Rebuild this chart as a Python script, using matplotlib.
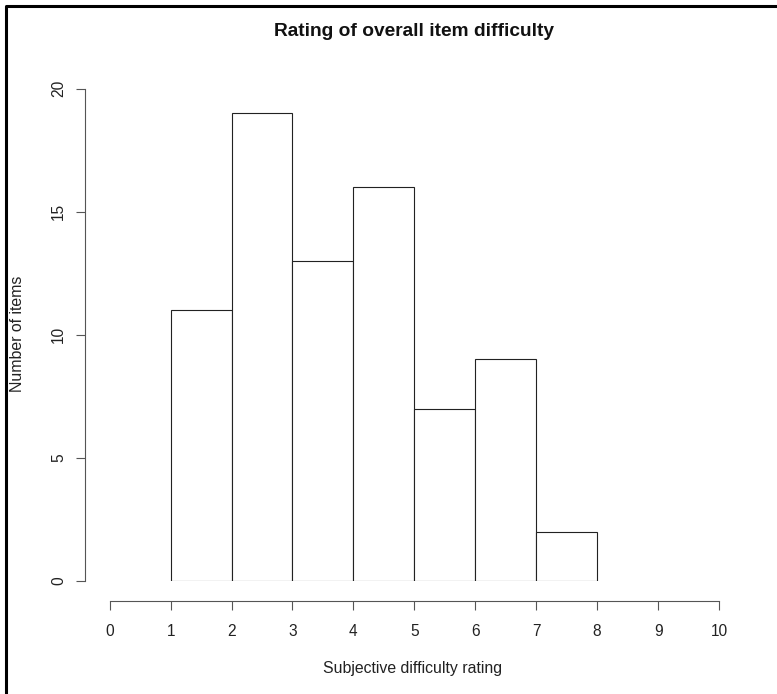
import matplotlib
matplotlib.use("Agg")
import matplotlib.pyplot as plt
from matplotlib.lines import Line2D

plt.rcParams['font.family'] = ['Liberation Sans', 'DejaVu Sans']

# histogram data (bin edges and counts)
bin_left = [1, 2, 3, 4, 5, 6, 7]
counts = [11, 19, 13, 16, 7, 9, 2]
x_ticks = list(range(0, 11))
y_ticks = [0, 5, 10, 15, 20]

W, H = 777, 694
fig = plt.figure(figsize=(W / 100, H / 100), dpi=100)

# axes placed so that x=0..10 and y=0..20 map onto the reference pixels
ax = fig.add_axes([109.7 / W, 1 - 580.7 / H, (719 - 109.7) / W, (580.7 - 88.7) / H])
ax.bar(bin_left, counts, width=1, align='edge', facecolor='white',
       edgecolor='#222222', linewidth=0.8)
ax.set_xlim(0, 10)
ax.set_ylim(0, 20)
ax.patch.set_visible(False)

# R style detached axes
for s in ['top', 'right']:
    ax.spines[s].set_visible(False)
ax.spines['left'].set_position(('outward', 17.8))
ax.spines['bottom'].set_position(('outward', 14.6))
ax.spines['left'].set_bounds(0, 20)
ax.spines['bottom'].set_bounds(0, 10)
for s in ['left', 'bottom']:
    ax.spines[s].set_color('#555555')
    ax.spines[s].set_linewidth(0.8)

ax.set_xticks(x_ticks)
ax.set_yticks(y_ticks)
ax.tick_params(axis='both', direction='out', length=6.5, width=0.8,
               color='#555555', labelsize=11.2, labelcolor='#222222')
ax.tick_params(axis='x', pad=10)
ax.tick_params(axis='y', pad=7)
for lab in ax.get_yticklabels():
    lab.set_rotation(90)
    lab.set_va('center')

fig.text(413.5 / W, 1 - 31.5 / H, 'Rating of overall item difficulty',
         ha='center', va='center', fontsize=13.8, fontweight='bold', color='#111111')
fig.text(413 / W, 1 - 669 / H, 'Subjective difficulty rating',
         ha='center', va='center', fontsize=11.4, color='#222222')
fig.text(18 / W, 1 - 334 / H, 'Number of items', rotation=90,
         ha='center', va='center', fontsize=11.4, color='#222222')

# frame around the picture (top and left edges only)
fig.add_artist(Line2D([5.5 / W, 5.5 / W, 1], [0, 1 - 5.5 / H, 1 - 5.5 / H],
                      transform=fig.transFigure, color='black', linewidth=2.2))

fig.savefig('out.png', dpi=100)
